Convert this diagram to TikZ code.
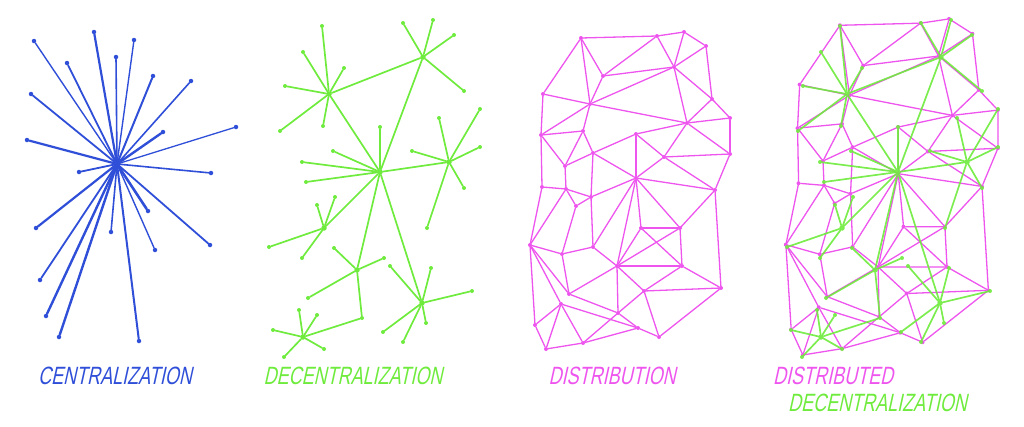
\documentclass[tikz,border=0pt]{standalone}
\usepackage{fontspec}
\newfontfamily\handfont[FakeStretch=0.72,FakeSlant=0.22]{Liberation Sans}
\definecolor{blueink}{RGB}{47,79,216}
\definecolor{greenink}{RGB}{110,235,60}
\definecolor{pinkink}{RGB}{238,85,238}

% the star-of-stars graph, #1 = prefix for the node names
\newcommand{\decgraph}[1]{%
	\foreach \n/\x/\y in {A/329/94,B/423/57,C/380/172,D/449/162,E/324/228,F/357/270,G/422/303,H/303/337}
	{
		\node[greenhub] (#1\n) at (\x,\y) {};
	}
	\foreach \n/\x/\y in {a1/322/26,a2/303/52,a3/344/68,a4/285/86,a5/280/131,a6/323/126,
		b1/403/23,b2/433/20,b3/454/35,b4/464/91,
		c1/380/127,c2/333/151,c3/302/162,c4/306/182,
		d1/439/118,d2/480/109,d3/480/147,d4/412/151,d5/464/188,d6/427/228,
		e1/317/205,e2/335/197,e3/269/247,e4/302/258,
		f1/334/248,f2/384/258,f3/308/298,f4/362/318,
		g1/390/266,g2/431/268,g3/472/291,g4/426/323,g5/383/332,g6/403/342,
		h1/299/310,h2/317/315,h3/273/330,h4/324/349,h5/284/357}
	{
		\node[greendot] (#1\n) at (\x,\y) {};
	}
	\foreach \a/\b in {A/a1,A/a2,A/a3,A/a4,A/a5,A/a6,B/b1,B/b2,B/b3,B/b4,
		C/c1,C/c2,C/c3,C/c4,D/d1,D/d2,D/d3,D/d4,D/d5,D/d6,E/e1,E/e2,E/e3,E/e4,
		F/f1,F/f2,F/f3,F/f4,G/g1,G/g2,G/g3,G/g4,G/g5,G/g6,H/h1,H/h2,H/h3,H/h4,H/h5,
		A/B,A/C,B/C,C/D,C/E,C/F,C/G,H/f4}
	{
		\draw[greenline] (#1\a) -- (#1\b);
	}
}

% the mesh, #1 = prefix for the node names
\newcommand{\meshgraph}[1]{%
	\foreach \n/\x/\y in {1/581/38,2/657/36,3/684/32,4/706/46,5/674/67,6/603/76,7/543/94,
		8/590/104,9/712/99,10/730/118,11/687/123,12/541/135,13/583/131,14/636/134,
		15/593/153,16/664/157,17/730/154,18/565/166,19/636/178,20/542/187,21/566/189,
		22/591/197,23/576/206,24/715/190,25/641/228,26/680/228,27/530/245,28/593/247,
		29/562/254,30/617/266,31/682/266,32/644/291,33/721/288,34/569/294,35/561/304,
		36/618/313,37/535/325,38/638/328,39/659/337,40/583/343,41/546/349}
	{
		\node[pinkdot] (#1\n) at (\x,\y) {};
	}
	\foreach \a/\b in {1/2,2/3,3/4,1/7,1/6,1/8,2/6,2/5,3/5,4/5,4/9,6/5,6/8,8/5,5/11,5/9,
		9/10,9/11,10/11,10/17,11/17,11/16,11/14,8/11,7/8,7/12,8/12,8/13,12/13,12/18,
		13/15,13/18,14/15,14/19,14/16,16/17,16/19,15/19,18/15,17/24,19/24,16/24,12/20,
		20/21,18/21,21/22,21/23,23/22,15/22,22/28,19/22,21/27,23/29,20/27,27/29,29/28,
		28/19,19/30,19/25,19/26,24/26,24/33,25/26,25/31,26/31,26/30,25/30,30/31,28/30,
		27/37,27/35,27/34,29/34,34/30,34/36,35/38,35/37,35/40,35/41,37/41,41/40,40/36,
		40/38,30/36,36/32,30/32,32/31,32/33,31/33,32/39,33/39,36/38,38/39}
	{
		\draw[pinkline] (#1\a) -- (#1\b);
	}
}

\begin{document}
\begin{tikzpicture}
		[x=1pt,y=-1pt,
		bluedot/.style={circle,fill=blueink,inner sep=0pt,minimum size=4.5pt},
		blueline/.style={draw=blueink,line cap=round},
		greenhub/.style={circle,fill=greenink,inner sep=0pt,minimum size=5.5pt},
		greendot/.style={circle,fill=greenink,inner sep=0pt,minimum size=4pt},
		greenline/.style={draw=greenink,line width=1.7pt,line cap=round},
		pinkdot/.style={circle,fill=pinkink,inner sep=0pt,minimum size=4pt},
		pinkline/.style={draw=pinkink,line width=1.3pt,line cap=round},
		label/.style={font=\handfont\fontsize{25}{25}\selectfont,inner sep=0pt}]
		\useasboundingbox (0,0) rectangle (1024,426);

		% centralization
		\node[bluedot,name=chub] at (117,164) {};
		\foreach \x/\y/\w [count=\i] in {34/41/1.4,94/32/2.2,134/40/1.4,116/57/1.6,67/63/1.8,
			153/76/2,191/81/1.6,31/94/1.8,236/127/1.3,163/132/2.4,27/140/2.2,79/172/1.8,
			211/173/1.6,148/211/2.6,36/228/2.2,111/232/1.6,210/245/1.8,155/250/1.4,
			40/280/1.8,46/316/2.4,59/337/2.4,139/341/2}
		{
			\node[bluedot,name=c\i] at (\x,\y) {};
			\draw[blueline,line width=\w pt] (chub) -- (c\i);
		}
		\node[label,text=blueink,name=tcen] at (115,376) {CENTRALIZATION};

		% decentralization
		\decgraph{g}
		\node[label,text=greenink,name=tdec] at (353,376) {DECENTRALIZATION};

		% distribution
		\meshgraph{p}
		\node[label,text=pinkink,name=tdis] at (612,376) {DISTRIBUTION};

		% distributed decentralization
		\begin{scope}[shift={(224,-15)},scale=1.06]
			\meshgraph{q}
		\end{scope}
		\begin{scope}[shift={(518,0)},opacity=0.9]
			\decgraph{r}
		\end{scope}
		\node[label,text=pinkink,name=tdd1,anchor=west] at (773,376) {DISTRIBUTED};
		\node[label,text=greenink,name=tdd2,anchor=west] at (788,403) {DECENTRALIZATION};
	\end{tikzpicture}
\end{document}
